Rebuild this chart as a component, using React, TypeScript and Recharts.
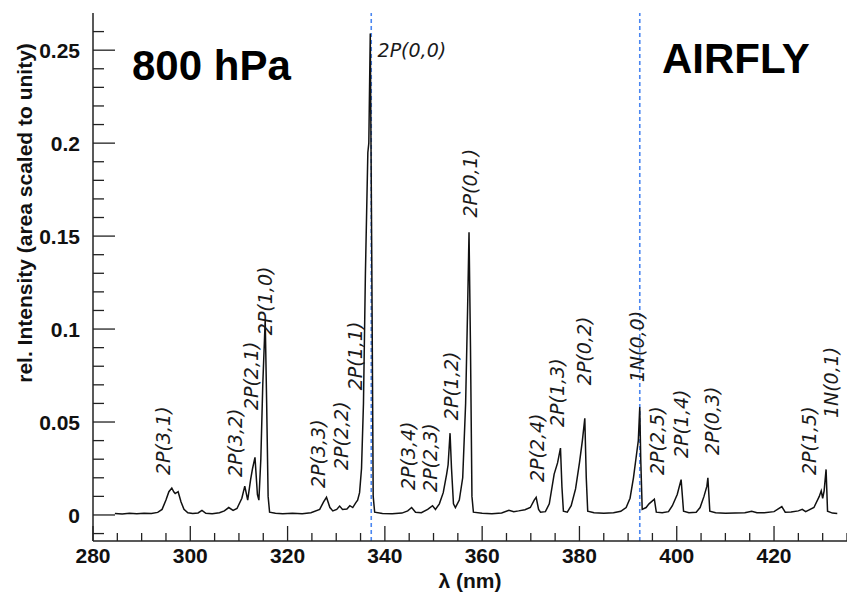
import React from 'react';
import { LineChart, Line, XAxis, YAxis, ReferenceLine, ReferenceDot } from 'recharts';

const WIDTH = 847;
const HEIGHT = 593;

const SANS = "'Liberation Sans', Arial, Helvetica, sans-serif";
const LABEL_FONT = "'DejaVu Sans', Verdana, sans-serif";
const AXIS_COLOR = '#222';

// N2 emission spectrum: [wavelength (nm), relative intensity]
const spectrum: [number, number][] = [
  [284.5, 0.0008], [286, 0.0005], [287.5, 0.0009], [289, 0.0006], [290.5, 0.0009], [292, 0.0008],
  [293.3, 0.0014], [294.2, 0.003], [295.0, 0.008], [295.6, 0.0125], [296.2, 0.0145], [296.6, 0.0125],
  [296.9, 0.0115], [297.5, 0.0125], [298.1, 0.007], [298.7, 0.003], [299.5, 0.0012], [300.5, 0.0008],
  [301.6, 0.0011], [302.4, 0.0025], [303.2, 0.0009], [304.5, 0.0007], [306.0, 0.0012], [307.0, 0.0022],
  [307.9, 0.004], [308.8, 0.0025], [309.6, 0.0035], [310.6, 0.009], [311.2, 0.0155], [311.8, 0.008],
  [312.4, 0.019], [312.8, 0.025], [313.3, 0.031], [313.8, 0.011], [314.1, 0.008], [314.5, 0.03],
  [314.9, 0.07], [315.4, 0.105], [315.7, 0.06], [316.0, 0.01], [316.3, 0.0015], [317.5, 0.0009],
  [319, 0.0006], [321, 0.0009], [323, 0.0007], [324.8, 0.0012], [326.6, 0.003], [327.4, 0.007],
  [328.0, 0.0095], [328.7, 0.004], [329.3, 0.0022], [330.1, 0.003], [330.7, 0.0048], [331.3, 0.003],
  [332.2, 0.0032], [332.8, 0.005], [333.4, 0.004], [334.0, 0.0065], [334.4, 0.008], [334.8, 0.012],
  [335.2, 0.025], [335.6, 0.06], [336.0, 0.13], [336.5, 0.195], [336.7, 0.2], [337.0, 0.259],
  [337.3, 0.14], [337.6, 0.01], [337.9, 0.0015], [339.5, 0.0008], [341.5, 0.0007], [343.5, 0.001],
  [344.7, 0.0022], [345.5, 0.004], [346.3, 0.0015], [347.5, 0.0012], [348.8, 0.003], [349.8, 0.005],
  [350.4, 0.003], [351.2, 0.006], [352.0, 0.012], [352.7, 0.022], [353.0, 0.027], [353.4, 0.044],
  [353.7, 0.025], [354.1, 0.006], [354.5, 0.004], [355.3, 0.008], [356.0, 0.02], [356.6, 0.06],
  [357.0, 0.11], [357.3, 0.152], [357.6, 0.09], [357.9, 0.01], [358.2, 0.0015], [360, 0.0009],
  [362, 0.0007], [364, 0.0011], [365.5, 0.0025], [366.5, 0.0018], [367.5, 0.0022], [368.8, 0.0028],
  [369.9, 0.004], [370.7, 0.008], [371.1, 0.0095], [371.6, 0.003], [372.0, 0.0015], [373.0, 0.0018],
  [373.8, 0.006], [374.8, 0.022], [375.5, 0.028], [376.1, 0.036], [376.4, 0.015], [376.7, 0.002],
  [377.5, 0.0015], [378.3, 0.005], [379.2, 0.014], [380.0, 0.028], [380.6, 0.04], [381.1, 0.052],
  [381.4, 0.02], [381.7, 0.002], [383, 0.0012], [385, 0.0009], [387, 0.0012], [388.5, 0.002],
  [389.6, 0.004], [390.4, 0.009], [391.1, 0.02], [391.7, 0.032], [392.1, 0.04], [392.4, 0.058],
  [392.6, 0.03], [392.9, 0.003], [393.7, 0.004], [394.3, 0.006], [395.4, 0.0085], [395.8, 0.0015],
  [397, 0.0012], [398.3, 0.0018], [399.1, 0.005], [400.1, 0.011], [400.9, 0.019], [401.4, 0.002],
  [402.5, 0.0012], [404.0, 0.0015], [404.8, 0.004], [405.6, 0.01], [406.2, 0.0155], [406.4, 0.02],
  [406.8, 0.002], [408, 0.0012], [410, 0.0009], [412, 0.001], [414, 0.0012], [415.4, 0.002],
  [416.5, 0.0012], [418, 0.0012], [420, 0.0018], [421.6, 0.0045], [422.3, 0.0015], [423.5, 0.0016],
  [425, 0.0022], [425.8, 0.003], [426.5, 0.0018], [428.2, 0.004], [429.3, 0.01], [429.7, 0.013],
  [430.0, 0.009], [430.3, 0.013], [430.7, 0.0245], [431.0, 0.002], [432, 0.001], [433, 0.0008],
];

// band heads: name, label anchor wavelength and intensity (bottom end of the label)
const bandNames = [
  '2P(3,1)', '2P(3,2)', '2P(2,1)', '2P(1,0)', '2P(3,3)', '2P(2,2)', '2P(1,1)', '2P(0,0)',
  '2P(3,4)', '2P(2,3)', '2P(1,2)', '2P(0,1)', '2P(2,4)', '2P(1,3)', '2P(0,2)', '1N(0,0)',
  '2P(2,5)', '2P(1,4)', '2P(0,3)', '2P(1,5)', '1N(0,1)',
];
const bandNm = [
  294.4, 309.2, 312.4, 315.3, 326.2, 330.9, 333.8, 338.5,
  344.7, 349.2, 353.5, 357.4, 371.2, 375.3, 381.0, 391.9,
  396.0, 400.9, 407.3, 427.2, 431.7,
];
const bandLevel = [
  0.0215, 0.0204, 0.0564, 0.0967, 0.0145, 0.0242, 0.0671, 0.2465,
  0.0134, 0.0124, 0.051, 0.16, 0.0177, 0.0473, 0.0698, 0.0714,
  0.0215, 0.0306, 0.0322, 0.0215, 0.0521,
];
// the strongest band is labelled horizontally
const horizontalBand = '2P(0,0)';

const markerLines = [337.2, 392.4];

const xMajor = [280, 300, 320, 340, 360, 380, 400, 420];
const yMajor = [0, 0.05, 0.1, 0.15, 0.2, 0.25];

const data = spectrum.map(([nm, v]) => ({ nm, v }));

const xTicks: number[] = [];
for (let v = 280; v <= 435; v += 5) xTicks.push(v);
const yTicks: number[] = [];
for (let i = -1; i <= 26; i++) yTicks.push(i / 100);

const isYMajor = (v: number) => yMajor.some((m) => Math.abs(m - v) < 1e-9);
const fmtY = (v: number) => (Math.abs(v) < 1e-9 ? '0' : String(+v.toFixed(2)));

const BottomTick = (props: any) => {
  const { x, y, payload } = props;
  const major = xMajor.includes(payload.value);
  return (
    <g>
      <line x1={x} x2={x} y1={y} y2={y - (major ? 15 : 8)} stroke={AXIS_COLOR} strokeWidth={1.3} />
      {major && (
        <text x={x} y={y + 22} textAnchor="middle" fontSize={21} fontWeight="bold" fontFamily={SANS} fill="#111">
          {payload.value}
        </text>
      )}
    </g>
  );
};

const TopTick = (props: any) => {
  const { x, y, payload } = props;
  const major = xMajor.includes(payload.value);
  return <line x1={x} x2={x} y1={y} y2={y + (major ? 15 : 8)} stroke={AXIS_COLOR} strokeWidth={1.3} />;
};

const LeftTick = (props: any) => {
  const { x, y, payload } = props;
  const major = isYMajor(payload.value);
  return (
    <g>
      <line x1={x} x2={x + (major ? 22 : 11)} y1={y} y2={y} stroke={AXIS_COLOR} strokeWidth={1.3} />
      {major && (
        <text x={x - 13} y={y} dy="0.36em" textAnchor="end" fontSize={21} fontWeight="bold" fontFamily={SANS} fill="#111">
          {fmtY(payload.value)}
        </text>
      )}
    </g>
  );
};

const RightTick = (props: any) => {
  const { x, y, payload } = props;
  const major = isYMajor(payload.value);
  return <line x1={x} x2={x - (major ? 22 : 11)} y1={y} y2={y} stroke={AXIS_COLOR} strokeWidth={1.3} />;
};

const bandLabel = (name: string) => (props: any) => {
  const { x, y } = props.viewBox;
  if (name === horizontalBand) {
    return (
      <text x={x} y={y} fontSize={19} fontStyle="italic" fontFamily={LABEL_FONT} fill="#1a1a1a">
        {name}
      </text>
    );
  }
  return (
    <text
      x={x}
      y={y}
      transform={`rotate(-90 ${x} ${y})`}
      dominantBaseline="central"
      textAnchor="start"
      fontSize={19}
      fontStyle="italic"
      fontFamily={LABEL_FONT}
      fill="#1a1a1a"
    >
      {name}
    </text>
  );
};

export default function App() {
  return (
    <div style={{ position: 'absolute', left: 0, top: 0, width: WIDTH, height: HEIGHT, background: '#fff' }}>
      <LineChart width={WIDTH} height={HEIGHT} data={data} margin={{ top: 13, right: 0, bottom: 0, left: 0 }}>
        <XAxis
          dataKey="nm"
          type="number"
          domain={[280, 435]}
          allowDataOverflow
          ticks={xTicks}
          interval={0}
          height={52}
          tickSize={0}
          tickMargin={0}
          tickLine={false}
          tick={BottomTick}
          axisLine={{ stroke: AXIS_COLOR, strokeWidth: 1.5 }}
        />
        <XAxis
          xAxisId="top"
          orientation="top"
          dataKey="nm"
          type="number"
          domain={[280, 435]}
          allowDataOverflow
          ticks={xTicks}
          interval={0}
          height={0}
          tickSize={0}
          tickMargin={0}
          tickLine={false}
          tick={TopTick}
          axisLine={{ stroke: AXIS_COLOR, strokeWidth: 1.5 }}
        />
        <YAxis
          type="number"
          domain={[-0.014, 0.27]}
          allowDataOverflow
          ticks={yTicks}
          interval={0}
          width={93}
          tickSize={0}
          tickMargin={0}
          tickLine={false}
          tick={LeftTick}
          axisLine={{ stroke: AXIS_COLOR, strokeWidth: 1.5 }}
        />
        <YAxis
          yAxisId="r"
          orientation="right"
          type="number"
          domain={[-0.014, 0.27]}
          allowDataOverflow
          ticks={yTicks}
          interval={0}
          width={0}
          tickSize={0}
          tickMargin={0}
          tickLine={false}
          tick={RightTick}
          axisLine={{ stroke: AXIS_COLOR, strokeWidth: 1.5 }}
        />
        {markerLines.map((nm) => (
          <ReferenceLine key={nm} x={nm} stroke="#4a86f0" strokeWidth={1.6} strokeDasharray="4 3" />
        ))}
        <Line
          dataKey="v"
          type="linear"
          stroke="#111"
          strokeWidth={1.5}
          dot={false}
          activeDot={false}
          isAnimationActive={false}
        />
        {bandNames.map((name, i) => (
          <ReferenceDot
            key={name}
            x={bandNm[i]}
            y={bandLevel[i]}
            r={0}
            fill="none"
            stroke="none"
            label={bandLabel(name)}
          />
        ))}
      </LineChart>
      <svg
        width={WIDTH}
        height={HEIGHT}
        style={{ position: 'absolute', left: 0, top: 0, pointerEvents: 'none' }}
      >
        <text x={132} y={80} fontSize={42} fontWeight="bold" fontFamily={SANS} fill="#000">
          800 hPa
        </text>
        <text x={662} y={73} fontSize={42} fontWeight="bold" fontFamily={SANS} fill="#000">
          AIRFLY
        </text>
        <text
          x={24}
          y={213}
          transform="rotate(-90 24 213)"
          textAnchor="middle"
          dominantBaseline="central"
          fontSize={21}
          fontWeight="bold"
          fontFamily={SANS}
          fill="#111"
        >
          rel. Intensity (area scaled to unity)
        </text>
        <text x={470} y={588} textAnchor="middle" fontSize={21} fontWeight="bold" fontFamily={SANS} fill="#111">
          λ (nm)
        </text>
      </svg>
    </div>
  );
}
